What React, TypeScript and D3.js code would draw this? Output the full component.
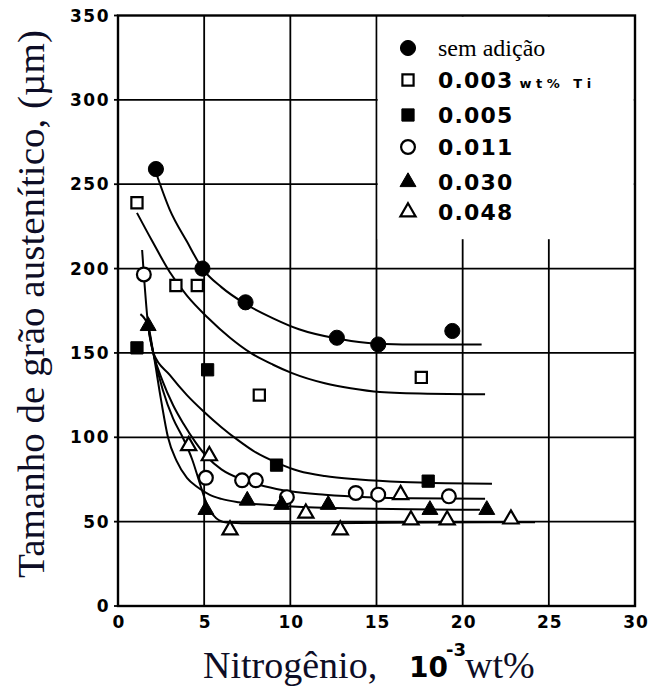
import React from "react";
import * as d3 from "d3";

const width = 662;
const height = 688;

const xTicks = [0, 5, 10, 15, 20, 25, 30];
const yTicks = [0, 50, 100, 150, 200, 250, 300, 350];

const legendLabels = ["sem adição", "0.003", "0.005", "0.011", "0.030", "0.048"];

// measured points, x in 10^-3 wt% N, y in µm
const semX = [2.2, 4.9, 7.4, 12.7, 15.1, 19.4];
const semY = [259, 200, 180, 159, 155, 163];
const ti003X = [1.1, 3.36, 4.6, 8.2, 17.6];
const ti003Y = [239, 190, 190, 125, 135.5];
const ti005X = [1.1, 5.2, 9.2, 18.0];
const ti005Y = [153, 140, 83.5, 74];
const ti011X = [1.5, 5.1, 7.2, 8.0, 9.8, 13.8, 15.1, 19.2];
const ti011Y = [196.5, 76, 74.5, 74.5, 64.5, 67, 66, 65];
const ti030X = [1.75, 5.1, 7.5, 9.5, 12.2, 18.1, 21.4];
const ti030Y = [166, 57, 62.5, 60, 60, 57, 57];
const ti048X = [4.1, 5.3, 6.5, 10.9, 12.9, 16.4, 17.0, 19.1, 22.8];
const ti048Y = [95, 89, 45, 55, 45, 66, 51, 51, 51.5];

// hand-drawn fit curves as [x, y]
const semFit = [[2.2, 257], [3, 235], [4, 216], [4.9, 200], [6, 189], [7.4, 179], [9, 170.5], [10.5, 164], [12.7, 158.5], [15, 155.5], [18, 155], [21.1, 155]];
const ti003Fit = [[1.1, 233], [2, 216], [3, 198], [4, 184], [5.2, 171], [6.5, 159], [7.7, 150], [9, 143], [10.1, 138], [12, 132], [13.5, 129], [15.2, 126.8], [18, 125.8], [21.3, 125.5]];
const ti005Fit = [[1.75, 166], [2.05, 150], [3, 137], [4, 125], [5, 115], [6, 106], [7, 98], [8, 91], [9.2, 85], [10.5, 80], [12, 77], [14, 75], [16.5, 73.5], [19, 72.8], [21.7, 72.5]];
const ti011Fit = [[1.4, 211], [1.5, 196.5], [1.75, 166], [2.05, 150], [2.6, 133], [3.2, 119], [3.8, 108], [4.5, 97], [5.2, 88], [6, 81], [7.2, 75], [8.5, 71], [10, 68], [12, 66], [14.5, 64.5], [17, 63.8], [21.3, 63.5]];
const ti030Fit = [[1.3, 173], [1.75, 166], [2.05, 150], [2.5, 122], [2.9, 100], [3.4, 86], [4, 76], [4.6, 70.5], [5.3, 66], [6, 63.5], [7, 61.5], [8.8, 59.8], [11, 58.5], [14, 57.8], [17, 57.3], [21, 57]];
const ti048Fit = [[1.75, 166], [2.05, 150], [2.6, 128], [3.2, 111], [3.8, 99], [4.3, 87], [4.8, 71], [5.2, 59], [5.7, 52], [6.3, 49.5], [8, 49], [12, 49], [18, 49.5], [24.2, 49.7]];

const series = [
  { xs: semX, ys: semY, fit: semFit, kind: "dot" },
  { xs: ti003X, ys: ti003Y, fit: ti003Fit, kind: "openSquare" },
  { xs: ti005X, ys: ti005Y, fit: ti005Fit, kind: "square" },
  { xs: ti011X, ys: ti011Y, fit: ti011Fit, kind: "openCircle" },
  { xs: ti030X, ys: ti030Y, fit: ti030Fit, kind: "triangle" },
  { xs: ti048X, ys: ti048Y, fit: ti048Fit, kind: "openTriangle" },
];

const symbols = {
  dot: { type: d3.symbolCircle, size: 180, filled: true },
  openSquare: { type: d3.symbolSquare, size: 125, filled: false },
  square: { type: d3.symbolSquare, size: 150, filled: true },
  openCircle: { type: d3.symbolCircle, size: 150, filled: false },
  triangle: { type: d3.symbolTriangle, size: 110, filled: true },
  openTriangle: { type: d3.symbolTriangle, size: 100, filled: false },
};

const Marker = ({ kind, cx, cy }: { kind: string; cx: number; cy: number }) => {
  const s = symbols[kind];
  const d = d3.symbol().type(s.type).size(s.size)();
  return (
    <path
      d={d}
      transform={`translate(${cx},${cy})`}
      fill={s.filled ? "#000" : "#fff"}
      stroke="#000"
      strokeWidth={s.filled ? 1 : 2.2}
    />
  );
};

const tickFont = "'DejaVu Sans', sans-serif";
const serif = "'Liberation Serif', 'Times New Roman', serif";
const titleColor = "#0d0d26";

export default function App() {
  const x = d3.scaleLinear().domain([0, 30]).range([118, 635]);
  const y = d3.scaleLinear().domain([0, 350]).range([606, 15.5]);

  const line = d3
    .line<number[]>()
    .x((d) => x(d[0]))
    .y((d) => y(d[1]))
    .curve(d3.curveMonotoneX);

  const legendX = 408;
  const legendY = [48, 80, 115, 147, 182, 212];

  return (
    <svg
      width={width}
      height={height}
      style={{ position: "absolute", left: 0, top: 0, background: "#fff" }}
    >
      {/* grid */}
      {xTicks.slice(1, -1).map((t) => (
        <line key={"gx" + t} x1={x(t)} x2={x(t)} y1={y(0)} y2={y(350)} stroke="#000" strokeWidth={1.8} />
      ))}
      {yTicks.slice(1, -1).map((t) => (
        <line key={"gy" + t} x1={x(0)} x2={x(30)} y1={y(t)} y2={y(t)} stroke="#000" strokeWidth={1.8} />
      ))}

      {/* legend box hides grid */}
      <rect x={x(15) + 1.2} y={y(350) + 1} width={x(30) - x(15) - 2.4} height={y(218) - y(350)} fill="#fff" />

      {/* frame */}
      <rect x={x(0)} y={y(350)} width={x(30) - x(0)} height={y(0) - y(350)} fill="none" stroke="#000" strokeWidth={2.4} />
      {yTicks.map((t) => (
        <line key={"ty" + t} x1={x(0) - 4} x2={x(0)} y1={y(t)} y2={y(t)} stroke="#000" strokeWidth={1.8} />
      ))}

      {/* tick labels */}
      {yTicks.map((t) => (
        <text
          key={"ly" + t}
          x={110}
          y={y(t)}
          dy="0.36em"
          textAnchor="end"
          fontFamily={tickFont}
          fontWeight="bold"
          fontSize={17}
          letterSpacing={1.5}
        >
          {t}
        </text>
      ))}
      {xTicks.map((t) => (
        <text
          key={"lx" + t}
          x={x(t) + 1}
          y={628}
          textAnchor="middle"
          fontFamily={tickFont}
          fontWeight="bold"
          fontSize={17}
          letterSpacing={1}
        >
          {t}
        </text>
      ))}

      {/* fitted curves */}
      {series.map((s, i) => (
        <path key={"fit" + i} d={line(s.fit) || ""} fill="none" stroke="#000" strokeWidth={2} />
      ))}

      {/* points */}
      {series.map((s, i) =>
        s.xs.map((v, j) => <Marker key={`p${i}-${j}`} kind={s.kind} cx={x(v)} cy={y(s.ys[j])} />)
      )}

      {/* legend */}
      {series.map((s, i) => (
        <Marker key={"lm" + i} kind={s.kind} cx={legendX} cy={legendY[i]} />
      ))}
      <text x={438} y={legendY[0] + 8} fontFamily={serif} fontSize={24} fill="#000">
        {legendLabels[0]}
      </text>
      {legendLabels.slice(1).map((l, i) => (
        <text
          key={"lt" + i}
          x={438}
          y={legendY[i + 1] + 8}
          fontFamily={tickFont}
          fontWeight="bold"
          fontSize={22}
          letterSpacing={1.2}
        >
          {l}
          {i === 0 ? (
            <tspan fontSize={13} letterSpacing={4.5} dx={6}>
              wt% Ti
            </tspan>
          ) : null}
        </text>
      ))}

      {/* axis titles */}
      <text
        transform="translate(44,304) rotate(-90)"
        textAnchor="middle"
        fontFamily={serif}
        fontSize={38}
        fill={titleColor}
        textLength={548}
        lengthAdjust="spacingAndGlyphs"
      >
        Tamanho de grão austenítico, (µm)
      </text>
      <text x={203} y={678} fontFamily={serif} fontSize={38} fill={titleColor}>
        Nitrogênio,
      </text>
      <text x={409} y={677} fontFamily={tickFont} fontWeight="bold" fontSize={28} fill="#000">
        10
      </text>
      <text x={446} y={656} fontFamily={tickFont} fontWeight="bold" fontSize={18} fill="#000">
        -3
      </text>
      <text x={465} y={678} fontFamily={serif} fontSize={38} fill={titleColor}>
        wt%
      </text>
    </svg>
  );
}
